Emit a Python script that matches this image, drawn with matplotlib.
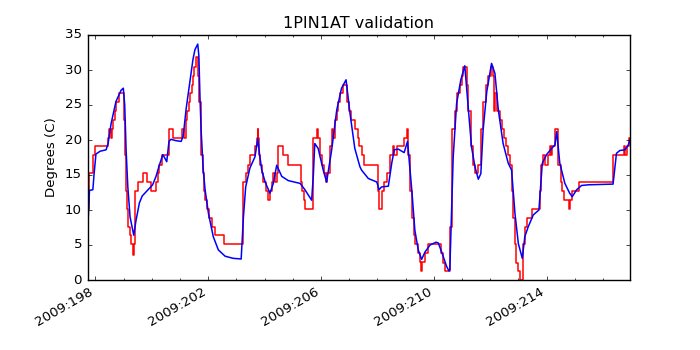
import matplotlib
matplotlib.use('Agg')
import matplotlib.pyplot as plt
from matplotlib.ticker import FixedLocator, MultipleLocator, FuncFormatter

# telemetry (red, stepped) : day-of-year 2009, degrees C
tlm_days = [197.74, 197.79, 197.90, 198.00, 198.44, 198.50, 198.57, 198.60, 198.64, 198.69,
            198.73, 198.82, 199.03, 199.05, 199.08, 199.12, 199.17, 199.22, 199.27, 199.33,
            199.36, 199.40, 199.42, 199.50, 199.70, 199.82, 199.97, 200.15, 200.21, 200.27,
            200.36, 200.60, 200.77, 201.08, 201.14, 201.22, 201.25, 201.32, 201.36, 201.43,
            201.47, 201.51, 201.56, 201.65, 201.69, 201.73, 201.76, 201.80, 201.84, 201.89,
            201.96, 202.04, 202.13, 202.24, 202.56, 203.25, 203.33, 203.40, 203.48, 203.66,
            203.72, 203.76, 203.78, 203.81, 203.84, 203.90, 203.95, 204.04, 204.11, 204.19,
            204.27, 204.31, 204.37, 204.43, 204.49, 204.66, 204.82, 205.29, 205.34, 205.41,
            205.43, 205.73, 205.85, 205.91, 205.97, 206.03, 206.12, 206.17, 206.22, 206.31,
            206.38, 206.44, 206.50, 206.56, 206.61, 206.67, 206.79, 206.94, 206.99, 207.06,
            207.20, 207.30, 207.35, 207.44, 207.54, 208.01, 208.05, 208.17, 208.23, 208.33,
            208.45, 208.56, 208.60, 208.68, 208.95, 209.04, 209.10, 209.16, 209.23, 209.29,
            209.33, 209.43, 209.51, 209.55, 209.58, 209.69, 209.78, 210.26, 210.34, 210.40,
            210.59, 210.63, 210.66, 210.74, 210.83, 210.93, 210.99, 211.05, 211.17, 211.22,
            211.32, 211.40, 211.46, 211.58, 211.66, 211.75, 211.87, 211.93, 212.02, 212.11,
            212.14, 212.17, 212.26, 212.35, 212.43, 212.50, 212.55, 212.64, 212.70, 212.77,
            212.82, 212.87, 212.91, 213.00, 213.06, 213.16, 213.23, 213.29, 213.47, 213.76,
            213.82, 213.88, 213.94, 214.04, 214.12, 214.16, 214.20, 214.29, 214.40, 214.50,
            214.55, 214.61, 214.80, 214.84, 214.91, 215.15, 216.37, 216.73, 216.79, 216.87,
            216.93, 216.96]
tlm_vals = [10.2, 15.3, 17.8, 19.1, 20.3, 21.6, 20.3, 21.6, 22.9, 24.1,
            25.4, 26.7, 22.9, 17.8, 12.7, 10.2, 7.6, 6.4, 5.1, 3.6,
            5.1, 8.9, 12.7, 14.0, 15.3, 14.0, 12.7, 14.0, 15.3, 16.5,
            17.8, 21.6, 20.3, 21.6, 20.3, 22.9, 24.1, 25.4, 26.7, 27.9,
            29.2, 30.5, 31.8, 29.2, 25.4, 21.6, 17.8, 15.3, 12.7, 11.5,
            10.2, 8.9, 7.6, 6.4, 5.1, 14.0, 15.3, 16.5, 17.8, 19.1,
            20.3, 21.6, 20.3, 17.8, 16.5, 15.3, 14.0, 12.7, 11.5, 12.7,
            14.0, 15.3, 14.0, 15.3, 19.1, 17.8, 16.5, 14.0, 12.7, 11.5,
            10.2, 20.3, 21.6, 20.3, 17.8, 16.5, 15.3, 14.0, 15.3, 19.1,
            21.6, 20.3, 22.9, 24.1, 25.4, 26.7, 27.9, 25.4, 24.1, 22.9,
            21.6, 20.3, 19.1, 17.8, 16.5, 12.7, 10.2, 12.7, 14.0, 15.3,
            17.8, 19.1, 17.8, 19.1, 20.3, 21.6, 17.8, 12.7, 8.9, 6.4,
            5.1, 3.8, 2.6, 1.3, 2.6, 3.8, 5.1, 3.8, 2.5, 1.3,
            7.6, 15.3, 21.6, 24.1, 26.7, 27.9, 29.2, 30.5, 27.9, 24.1,
            19.1, 16.5, 15.3, 16.5, 21.6, 25.4, 27.9, 29.2, 30.5, 29.2,
            24.1, 26.7, 24.1, 22.9, 21.6, 20.3, 19.1, 17.8, 16.5, 12.7,
            8.9, 5.1, 2.5, 1.3, 0.0, 5.1, 7.6, 8.9, 10.2, 12.7,
            16.5, 17.8, 16.5, 17.8, 19.1, 17.8, 19.1, 21.6, 16.5, 14.0,
            12.7, 11.5, 10.2, 11.5, 12.7, 14.0, 17.8, 19.1, 17.8, 19.1,
            20.3, 20.3]

# model prediction (blue)
model_days = [197.74, 197.79, 197.91, 197.95, 198.02, 198.17, 198.38, 198.45, 198.56, 198.73,
              198.91, 198.99, 199.04, 199.09, 199.15, 199.23, 199.36, 199.44, 199.56, 199.66,
              199.80, 199.94, 200.03, 200.15, 200.26, 200.39, 200.45, 200.53, 200.61, 200.68,
              200.86, 201.04, 201.11, 201.14, 201.22, 201.36, 201.46, 201.53, 201.63, 201.67,
              201.71, 201.75, 201.82, 201.89, 202.01, 202.18, 202.36, 202.60, 202.88, 203.17,
              203.25, 203.33, 203.48, 203.66, 203.76, 203.82, 203.90, 204.02, 204.19, 204.31,
              204.43, 204.61, 204.84, 205.26, 205.43, 205.67, 205.73, 205.78, 205.90, 206.08,
              206.20, 206.38, 206.56, 206.73, 206.89, 207.03, 207.20, 207.38, 207.44, 207.68,
              207.98, 208.06, 208.15, 208.39, 208.51, 208.60, 208.74, 208.95, 209.07, 209.22,
              209.33, 209.45, 209.57, 209.69, 209.87, 210.08, 210.16, 210.28, 210.46, 210.54,
              210.57, 210.63, 210.69, 210.81, 210.96, 211.10, 211.22, 211.34, 211.46, 211.58,
              211.67, 211.75, 211.88, 212.05, 212.17, 212.29, 212.46, 212.64, 212.76, 212.88,
              213.00, 213.14, 213.23, 213.35, 213.53, 213.73, 213.85, 214.00, 214.18, 214.30,
              214.36, 214.47, 214.65, 214.82, 214.91, 215.07, 215.24, 215.48, 216.36, 216.48,
              216.60, 216.78, 216.90, 216.96]
model_vals = [8.3, 12.8, 12.9, 15.0, 18.0, 18.4, 18.6, 19.5, 22.4, 25.5,
              27.1, 27.4, 25.0, 18.5, 13.3, 9.0, 6.4, 8.5, 11.0, 12.0,
              12.6, 13.2, 13.6, 14.8, 16.3, 17.9, 17.5, 16.9, 19.8, 20.1,
              19.9, 19.8, 20.5, 21.5, 24.5, 28.6, 31.5, 32.9, 33.7, 32.0,
              26.0, 21.4, 16.0, 12.9, 9.5, 6.2, 4.3, 3.4, 3.1, 3.0,
              9.0, 13.3, 16.0, 17.6, 20.2, 18.0, 15.7, 14.0, 12.4, 13.8,
              16.4, 14.8, 14.2, 13.8, 12.9, 11.4, 15.0, 19.5, 18.8, 15.7,
              14.0, 18.6, 24.3, 27.4, 28.6, 23.8, 18.8, 16.2, 15.7, 14.5,
              14.0, 12.9, 13.3, 13.4, 16.7, 18.6, 18.7, 18.2, 19.8, 12.9,
              7.1, 4.3, 2.95, 4.0, 5.0, 5.4, 5.3, 4.0, 1.9, 1.3,
              1.5, 9.5, 17.6, 25.2, 28.6, 30.6, 24.8, 19.0, 16.2, 14.4,
              15.2, 21.4, 26.9, 30.95, 29.5, 24.3, 19.5, 16.7, 15.7, 9.5,
              5.2, 3.1, 6.2, 7.6, 9.3, 10.0, 16.7, 17.9, 18.8, 19.3,
              21.2, 16.7, 13.8, 12.4, 11.9, 12.9, 13.5, 13.6, 13.7, 18.1,
              18.5, 18.6, 19.3, 20.0]

msid = '1PIN1AT'
year = 2009
major_days = [198, 202, 206, 210, 214]

plt.style.use('classic')
plt.rcParams['font.family'] = ['DejaVu Sans']
plt.rcParams['font.size'] = 9.6
plt.rcParams['axes.titlesize'] = 11.5
plt.rcParams['xtick.major.size'] = 3.2
plt.rcParams['ytick.major.size'] = 3.2
plt.rcParams['xtick.minor.size'] = 1.6
plt.rcParams['ytick.minor.size'] = 1.6

fig = plt.figure(figsize=(7, 3.5), dpi=100, facecolor='white')
ax = fig.add_subplot(1, 1, 1)

ax.plot(tlm_days, tlm_vals, color='r', lw=1.1, drawstyle='steps-post')
ax.plot(model_days, model_vals, color='b', lw=1.1)

ax.set_xlim(197.72, 216.96)
ax.set_ylim(0, 35)
ax.xaxis.set_major_locator(FixedLocator(major_days))
ax.xaxis.set_minor_locator(MultipleLocator(1))
ax.yaxis.set_major_locator(MultipleLocator(5))
ax.xaxis.set_major_formatter(FuncFormatter(lambda d, pos: f'{year}:{int(round(d)):03d}'))

ax.set_title(f'{msid} validation', pad=5)
ax.set_ylabel('Degrees (C)')
fig.autofmt_xdate()

fig.savefig('out.png', dpi=100, facecolor='white')
